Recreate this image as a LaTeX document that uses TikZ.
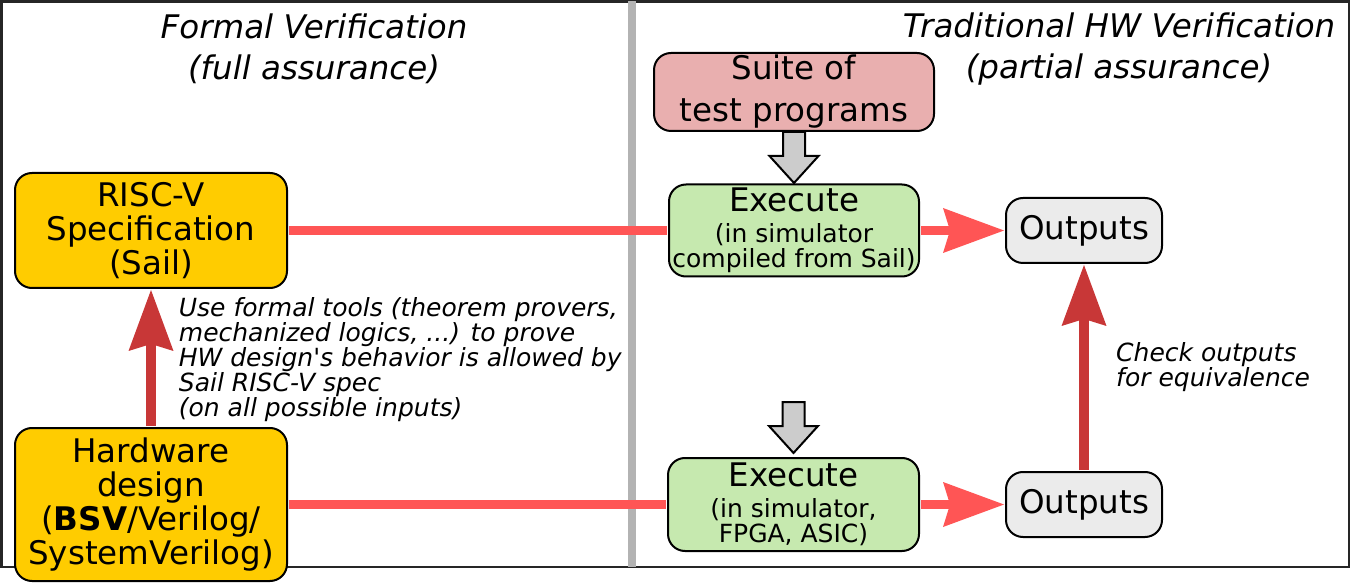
\documentclass[tikz,border=0pt]{standalone}
\usepackage{fontspec}
\setmainfont{DejaVu Sans}
\usetikzlibrary{arrows.meta, calc}

\definecolor{specgold}{HTML}{FFCC00}
\definecolor{runbox}{HTML}{C6E9AF}
\definecolor{testbox}{HTML}{E9AFAF}
\definecolor{outbox}{HTML}{EBEBEB}
\definecolor{flowred}{HTML}{FF5555}
\definecolor{checkred}{HTML}{C83737}
\definecolor{feedgray}{HTML}{CCCCCC}
\definecolor{sepgray}{HTML}{B3B3B3}

\begin{document}
\begin{tikzpicture}[x=1pt, y=1pt,
            box/.style={draw=black, line width=2pt, rounded corners=17pt, align=center, inner sep=0pt},
            big/.style={font=\fontsize{32.5}{34}\selectfont},
            small/.style={font=\fontsize{25}{25}\selectfont},
            title/.style={font=\fontsize{32.5}{41}\selectfont\itshape, align=center, inner sep=0pt},
            note/.style={font=\fontsize{25}{25}\selectfont\itshape, align=left, inner sep=0pt, anchor=north west},
            flow/.style={draw=flowred, line width=9pt, shorten <=1pt, shorten >=1pt},
            check/.style={draw=checkred, line width=10pt, shorten <=1pt, shorten >=1pt},
            feed/.style={draw=black, fill=feedgray, line width=2pt, line join=miter},
            >={Stealth[length=61pt, width=45pt, inset=7pt, line width=0pt 0 0]}]

        \useasboundingbox (0,0) rectangle (1351,584);

        % frame and column separator
        \draw[line width=2.5pt, draw=black!85] (1.5,17) rectangle (1349,582.5);
        \draw[line width=8pt, draw=sepgray] (631.5,17) -- (631.5,583);

        \node[title] (formal) at (314,535) {Formal Verification\\(full assurance)};
        \node[title] (trad) at (1119,535) {Traditional HW Verification\\(partial assurance)};

        \node[box, big, fill=specgold, minimum width=272, minimum height=115] (spec) at (151,353.5) {RISC-V\\Specification\\(Sail)};
        \node[box, big, fill=specgold, minimum width=272, minimum height=153] (hw) at (151,79.5) {Hardware\\design\\(\textbf{BSV}/Verilog/\\SystemVerilog)};

        \node[box, font=\fontsize{32.5}{42}\selectfont, fill=testbox, minimum width=280, minimum height=78] (suite) at (794,492) {Suite of\\test programs};
        \node[box, small, fill=runbox, minimum width=250, minimum height=92] (exec1) at (794,353.5) {{\fontsize{32.5}{34}\selectfont Execute}\\[6pt](in simulator\\compiled from Sail)};
        \node[box, small, fill=runbox, minimum width=251, minimum height=93] (exec2) at (793.5,79.5) {{\fontsize{32.5}{34}\selectfont Execute}\\[6pt](in simulator,\\FPGA, ASIC)};

        \node[box, big, fill=outbox, minimum width=156, minimum height=65] (out1) at (1084,353.5) {Outputs};
        \node[box, big, fill=outbox, minimum width=156, minimum height=65] (out2) at (1084,79.5) {Outputs};

        \node[note] (proofnote) at (178.7,287) {Use formal tools (theorem provers,\\mechanized logics, ...) to prove\\HW design\textquotesingle s behavior is allowed by\\Sail RISC-V spec\\(on all possible inputs)};
        \node[note] (eqnote) at (1116,241.3) {Check outputs\\for equivalence};

        \draw[flow] (spec) -- (exec1);
        \draw[flow, ->] (exec1) -- (out1);
        \draw[flow] (hw) -- (exec2);
        \draw[flow, ->] (exec2) -- (out2);
        \draw[check, ->] (hw) -- (spec);
        \draw[check, ->] (out2) -- (out1);

        % block arrows feeding the test programs in
        \draw[feed] ($(suite.south)+(-11,0)$) -- ++(0,-24) -- ++(-13.5,0) -- ++(24.5,-27) -- ++(24.5,27) -- ++(-13.5,0) -- ++(0,24) -- cycle;
        \coordinate (feedtop) at ($(exec2.north)+(0,55)$);
        \draw[feed] ($(feedtop)+(-11,0)$) -- ++(0,-24) -- ++(-13.5,0) -- ++(24.5,-27) -- ++(24.5,27) -- ++(-13.5,0) -- ++(0,24) -- cycle;

    \end{tikzpicture}
\end{document}
